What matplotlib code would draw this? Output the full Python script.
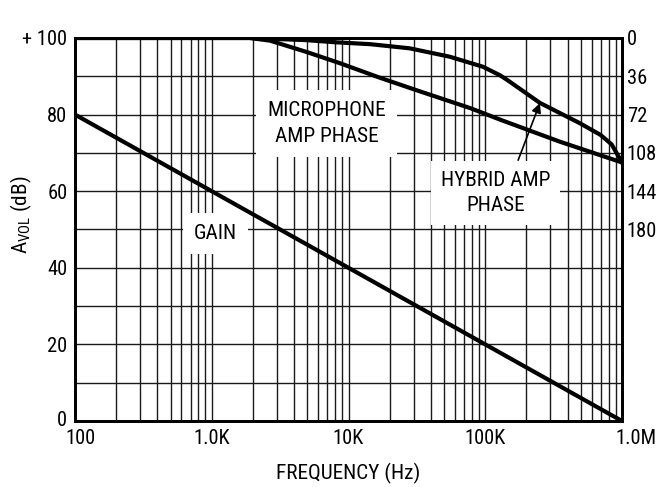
import matplotlib
matplotlib.use("Agg")
import matplotlib.pyplot as plt
from matplotlib import font_manager as fm
from matplotlib.ticker import FixedLocator, LogLocator, NullFormatter
from matplotlib.transforms import ScaledTranslation
import numpy as np

# ---- pick a condensed sans font if one is installed ----
def pick_font():
    prefs = ['Liberation Sans Narrow', 'Roboto Condensed', 'Open Sans Condensed',
             'Noto Sans', 'DejaVu Sans', 'Arial Narrow', 'Nimbus Sans Narrow']
    found = []
    for f in fm.fontManager.ttflist:
        cond = ('Narrow' in f.name or 'Condensed' in f.name or
                str(f.stretch) in ('condensed', 'semi-condensed', 'extra-condensed'))
        if cond and f.style == 'normal' and f.weight in (400, 'normal', 'regular'):
            found.append(f)
    for p in prefs:
        for f in found:
            if f.name == p:
                return f.name, f.stretch
    if found:
        return found[0].name, found[0].stretch
    return None, None

fname, fstretch = pick_font()
if fname:
    plt.rcParams['font.family'] = [fname, 'Liberation Sans', 'DejaVu Sans']
    plt.rcParams['font.stretch'] = fstretch
    FS = 15.3
    TFS = 14.8
else:
    plt.rcParams['font.family'] = ['Liberation Sans', 'DejaVu Sans']
    FS = 13
    TFS = 12.5
plt.rcParams['font.weight'] = 'normal'
plt.rcParams['mathtext.fontset'] = 'custom'
plt.rcParams['mathtext.rm'] = plt.rcParams['font.family'][0]
plt.rcParams['mathtext.it'] = plt.rcParams['font.family'][0]

# ---- data ----
gain_freq = [100, 1e6]
gain_db = [80, 0]

mic_freq = [100, 1.9e3, 2.67e3, 4.9e3, 8.7e3, 1.7e4, 3.3e4, 7.8e4, 1.3e5, 3.52e5, 1e6]
mic_phase = [0, 0, 2.5, 13, 23.8, 37.4, 50, 66, 77, 97.5, 117]

hyb_freq = [100, 1.9e3, 4.9e3, 8e3, 1.44e4, 2.8e4, 5.5e4, 9.6e4, 1.28e5, 1.45e5,
            2.51e5, 4.9e5, 6.95e5, 8.4e5, 1e6]
hyb_phase = [0, 0, 2, 4, 5.8, 9.7, 17.6, 27, 35, 39.5, 61, 80, 91, 100, 117]

x_ticks = [100, 1e3, 1e4, 1e5, 1e6]
x_labels = ['100', '1.0K', '10K', '100K', '1.0M']
y_ticks = [0, 20, 40, 60, 80, 100]
y_labels = ['0', '20', '40', '60', '80', '+ 100']
phase_ticks = [0, 36, 72, 108, 144, 180]

fig = plt.figure(figsize=(6.57, 4.87), dpi=100)
ax = fig.add_axes([75/657, 1-421/487, (622-75)/657, (421-38)/487])
ax.set_xscale('log')
ax.set_xlim(100, 1e6)
ax.set_ylim(0, 100)

ax.set_xticks(x_ticks)
ax.set_xticklabels(x_labels, fontsize=TFS)
ax.xaxis.set_minor_locator(LogLocator(base=10, subs=np.arange(2, 10)))
ax.xaxis.set_minor_formatter(NullFormatter())
ax.set_yticks(y_ticks)
ax.set_yticklabels(y_labels, fontsize=TFS)
ax.yaxis.set_minor_locator(FixedLocator(np.arange(10, 100, 20)))
ax.tick_params(which='both', length=0)
ax.tick_params(axis='y', pad=5.5)
ax.tick_params(axis='x', pad=5.5)
ax.grid(True, which='both', color='#1a1a1a', linewidth=1.0)
ax.set_axisbelow(True)

# nudge end labels like the original layout
xl = ax.get_xticklabels()
xl[-1].set_horizontalalignment('left')
xl[-1].set_transform(xl[-1].get_transform() + ScaledTranslation(-5/72, 0, fig.dpi_scale_trans))
xl[0].set_transform(xl[0].get_transform() + ScaledTranslation(4/72, 0, fig.dpi_scale_trans))
yl = ax.get_yticklabels()
yl[0].set_transform(yl[0].get_transform() + ScaledTranslation(0, 2/72, fig.dpi_scale_trans))

ax.set_xlabel('FREQUENCY (Hz)', fontsize=FS)
ax.xaxis.set_label_coords(0.5, (421-473)/383)
ax.xaxis.label.set_verticalalignment('center')
ax.set_ylabel(r'A$_{\mathrm{VOL}}$ (dB)', fontsize=FS)
ax.yaxis.set_label_coords((21-75)/547, (421-215)/383)
ax.yaxis.label.set_verticalalignment('center')
ax.yaxis.label.set_horizontalalignment('center')

ax.plot(gain_freq, gain_db, color='black', linewidth=3.0, solid_capstyle='butt', zorder=4)

ax2 = ax.twinx()
ax2.set_ylim(360, 0)
ax2.set_yticks(phase_ticks)
ax2.set_yticklabels([str(t) for t in phase_ticks], fontsize=TFS)
ax2.tick_params(length=0, pad=3.5)
ax2.plot(mic_freq, mic_phase, color='black', linewidth=3.0, zorder=4)
ax2.plot(hyb_freq, hyb_phase, color='black', linewidth=3.0, zorder=4)

for a in (ax, ax2):
    for s in a.spines.values():
        s.set_linewidth(2.0)

ax.text(6.9e3, 77.6, 'MICROPHONE\nAMP PHASE', fontsize=FS, ha='center', va='center',
        linespacing=1.45, bbox=dict(facecolor='white', edgecolor='none', pad=8), zorder=3)
ax.text(1.19e5, 59.6, 'HYBRID AMP\nPHASE', fontsize=FS, ha='center', va='center',
        linespacing=1.4, bbox=dict(facecolor='white', edgecolor='none', pad=7), zorder=3)
ax.text(1.06e3, 49.0, 'GAIN', fontsize=FS, ha='center', va='center',
        bbox=dict(facecolor='white', edgecolor='none', pad=8), zorder=3)

ax2.annotate('', xy=(2.51e5, (100-83.0)*3.6), xytext=(1.74e5, (100-68.1)*3.6),
             arrowprops=dict(arrowstyle='-|>', color='black', lw=1.2,
                             mutation_scale=14, shrinkA=0, shrinkB=0), zorder=5)

fig.savefig('out.png', dpi=100)
